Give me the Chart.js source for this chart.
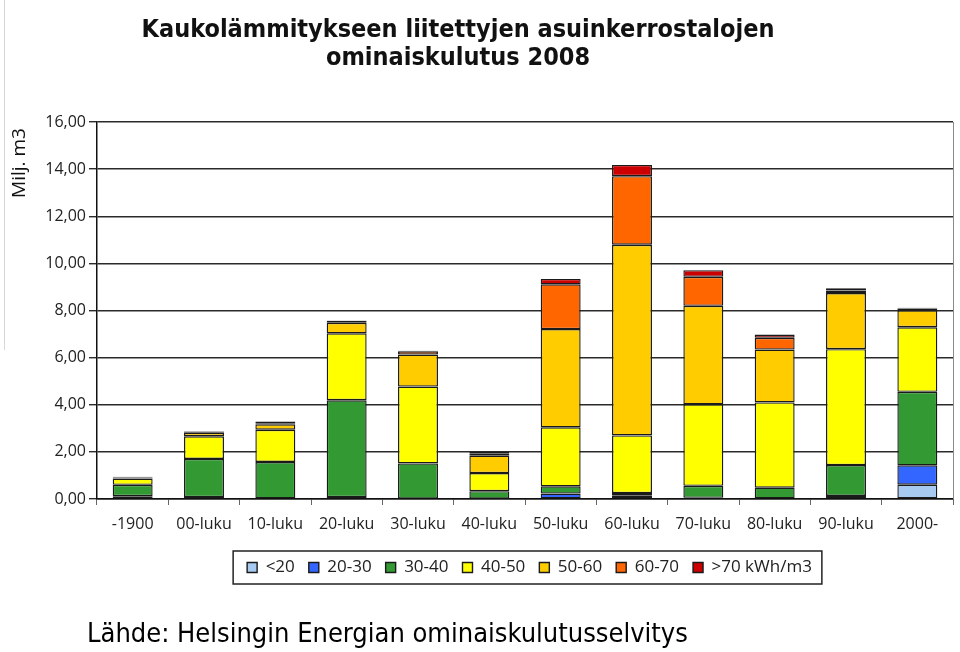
<!DOCTYPE html>
<html>
<head>
<meta charset="utf-8">
<script src="https://cdn.jsdelivr.net/npm/chart.js@4/dist/chart.umd.min.js"></script>
<style>
  html, body { margin: 0; padding: 0; background: #fff; }
  #wrap { width: 960px; height: 652px; position: relative; }
</style>
</head>
<body>
<div id="wrap"><canvas id="chart"></canvas></div>
<script>
// Kaukolämmitteisten kerrostalojen ominaiskulutus 2008, milj. m3 per rakennusvuosikymmen
const categories = ['-1900', '00-luku', '10-luku', '20-luku', '30-luku', '40-luku',
                    '50-luku', '60-luku', '70-luku', '80-luku', '90-luku', '2000-'];

const lt20   = [0,    0,    0,    0,    0,    0,    0,    0,    0,    0,    0,    0.61];
const s20_30 = [0.12, 0.08, 0.03, 0.08, 0.02, 0.01, 0.23, 0.14, 0.05, 0.03, 0.13, 0.82];
const s30_40 = [0.48, 1.62, 1.54, 4.11, 1.49, 0.32, 0.31, 0.11, 0.51, 0.45, 1.31, 3.12];
const s40_50 = [0.27, 0.96, 1.37, 2.84, 3.26, 0.77, 2.50, 2.45, 3.46, 3.62, 4.92, 2.74];
const s50_60 = [0.04, 0.15, 0.23, 0.45, 1.36, 0.74, 4.17, 8.09, 4.18, 2.24, 2.38, 0.72];
const s60_70 = [0.02, 0.05, 0.05, 0.08, 0.14, 0.10, 1.90, 2.91, 1.23, 0.50, 0.11, 0.07];
const gt70   = [0.01, 0.02, 0.07, 0.02, 0.02, 0.05, 0.23, 0.48, 0.28, 0.14, 0.09, 0.04];

const seriesLabels = ['<20', '20-30', '30-40', '40-50', '50-60', '60-70', '>70 kWh/m3'];
const seriesValues = [lt20, s20_30, s30_40, s40_50, s50_60, s60_70, gt70];
const seriesColors = ['#a6caf0', '#3366ff', '#339933', '#ffff00', '#ffcc00', '#ff6600', '#cc0000'];

const yMin = 0, yMax = 16, yStep = 2;

const titleLines = ['Kaukolämmitykseen liitettyjen asuinkerrostalojen', 'ominaiskulutus 2008'];
const yTitle = 'Milj. m3';
const sourceText = 'Lähde: Helsingin Energian ominaiskulutusselvitys';

Chart.defaults.font.family = '"Open Sans", sans-serif';
Chart.defaults.color = '#222';

// legend in the original sits right of centre
const legendShift = {
    id: 'legendShift',
    afterLayout(chart) {
        chart.legend.left += 53;
        chart.legend.right += 53;
    }
};

// title, y-axis label, source line and legend frame
const decorations = {
    id: 'decorations',
    afterDraw(chart) {
        const ctx = chart.ctx;
        const area = chart.chartArea;
        ctx.save();

        // faint slide edge on the left
        ctx.strokeStyle = '#d3d9dc';
        ctx.lineWidth = 1;
        ctx.beginPath();
        ctx.moveTo(4.5, 0);
        ctx.lineTo(4.5, 350);
        ctx.stroke();

        // right border of plot area
        ctx.strokeStyle = '#8a8a8a';
        ctx.beginPath();
        ctx.moveTo(area.right + 0.5, area.top);
        ctx.lineTo(area.right + 0.5, area.bottom);
        ctx.stroke();

        ctx.fillStyle = '#111';
        ctx.textAlign = 'center';
        ctx.textBaseline = 'middle';
        ctx.font = 'bold 25px "DejaVu Sans Condensed", "DejaVu Sans", sans-serif';
        ctx.fillText(titleLines[0], 458, 30);
        ctx.fillText(titleLines[1], 458, 58);

        ctx.font = '19px "Open Sans", sans-serif';
        ctx.translate(20, 163);
        ctx.rotate(-Math.PI / 2);
        ctx.fillText(yTitle, 0, 0);
        ctx.setTransform(1, 0, 0, 1, 0, 0);

        ctx.textAlign = 'left';
        ctx.fillStyle = '#000';
        ctx.font = '27px "DejaVu Sans Condensed", "DejaVu Sans", sans-serif';
        ctx.fillText(sourceText, 87, 635);

        const boxes = chart.legend.legendHitBoxes;
        if (boxes && boxes.length) {
            const l = Math.min(...boxes.map(b => b.left)) - 14;
            const r = Math.max(...boxes.map(b => b.left + b.width)) + 10;
            const t = Math.min(...boxes.map(b => b.top)) - 8;
            const btm = Math.max(...boxes.map(b => b.top + b.height)) + 8;
            ctx.strokeStyle = '#222';
            ctx.lineWidth = 1.5;
            ctx.strokeRect(l, t, r - l, btm - t);
        }
        ctx.restore();
    }
};

new Chart(document.getElementById('chart'), {
    type: 'bar',
    data: {
        labels: categories,
        datasets: seriesValues.map((vals, i) => ({
            label: seriesLabels[i],
            data: vals,
            backgroundColor: seriesColors[i],
            borderColor: '#1a1a1a',
            borderWidth: 1.4,
            borderSkipped: false,
            categoryPercentage: 1,
            barPercentage: 0.56
        }))
    },
    options: {
        responsive: true,
        maintainAspectRatio: false,
        animation: false,
        layout: { padding: { top: 122, right: 7, bottom: 66, left: 0 } },
        plugins: {
            title: { display: false },
            tooltip: { enabled: false },
            legend: {
                position: 'bottom',
                labels: {
                    boxWidth: 10,
                    boxHeight: 10,
                    padding: 14,
                    color: '#222',
                    font: { size: 17 }
                }
            }
        },
        scales: {
            x: {
                stacked: true,
                afterFit: s => { s.height = 46; },
                grid: { offset: true, drawOnChartArea: false, tickLength: 6, color: '#666' },
                border: { color: '#111', width: 1.5 },
                ticks: { padding: 10, font: { size: 16 }, color: '#222', maxRotation: 0 }
            },
            y: {
                stacked: true,
                min: yMin,
                max: yMax,
                afterFit: s => { s.width = 97; },
                grid: { color: '#2a2a2a', lineWidth: 1.4, tickLength: 8 },
                border: { color: '#111', width: 1.5 },
                ticks: {
                    stepSize: yStep,
                    padding: 3,
                    font: { size: 16 },
                    color: '#222',
                    callback: v => v.toFixed(2).replace('.', ',')
                }
            }
        }
    },
    plugins: [legendShift, decorations]
});
</script>
</body>
</html>
